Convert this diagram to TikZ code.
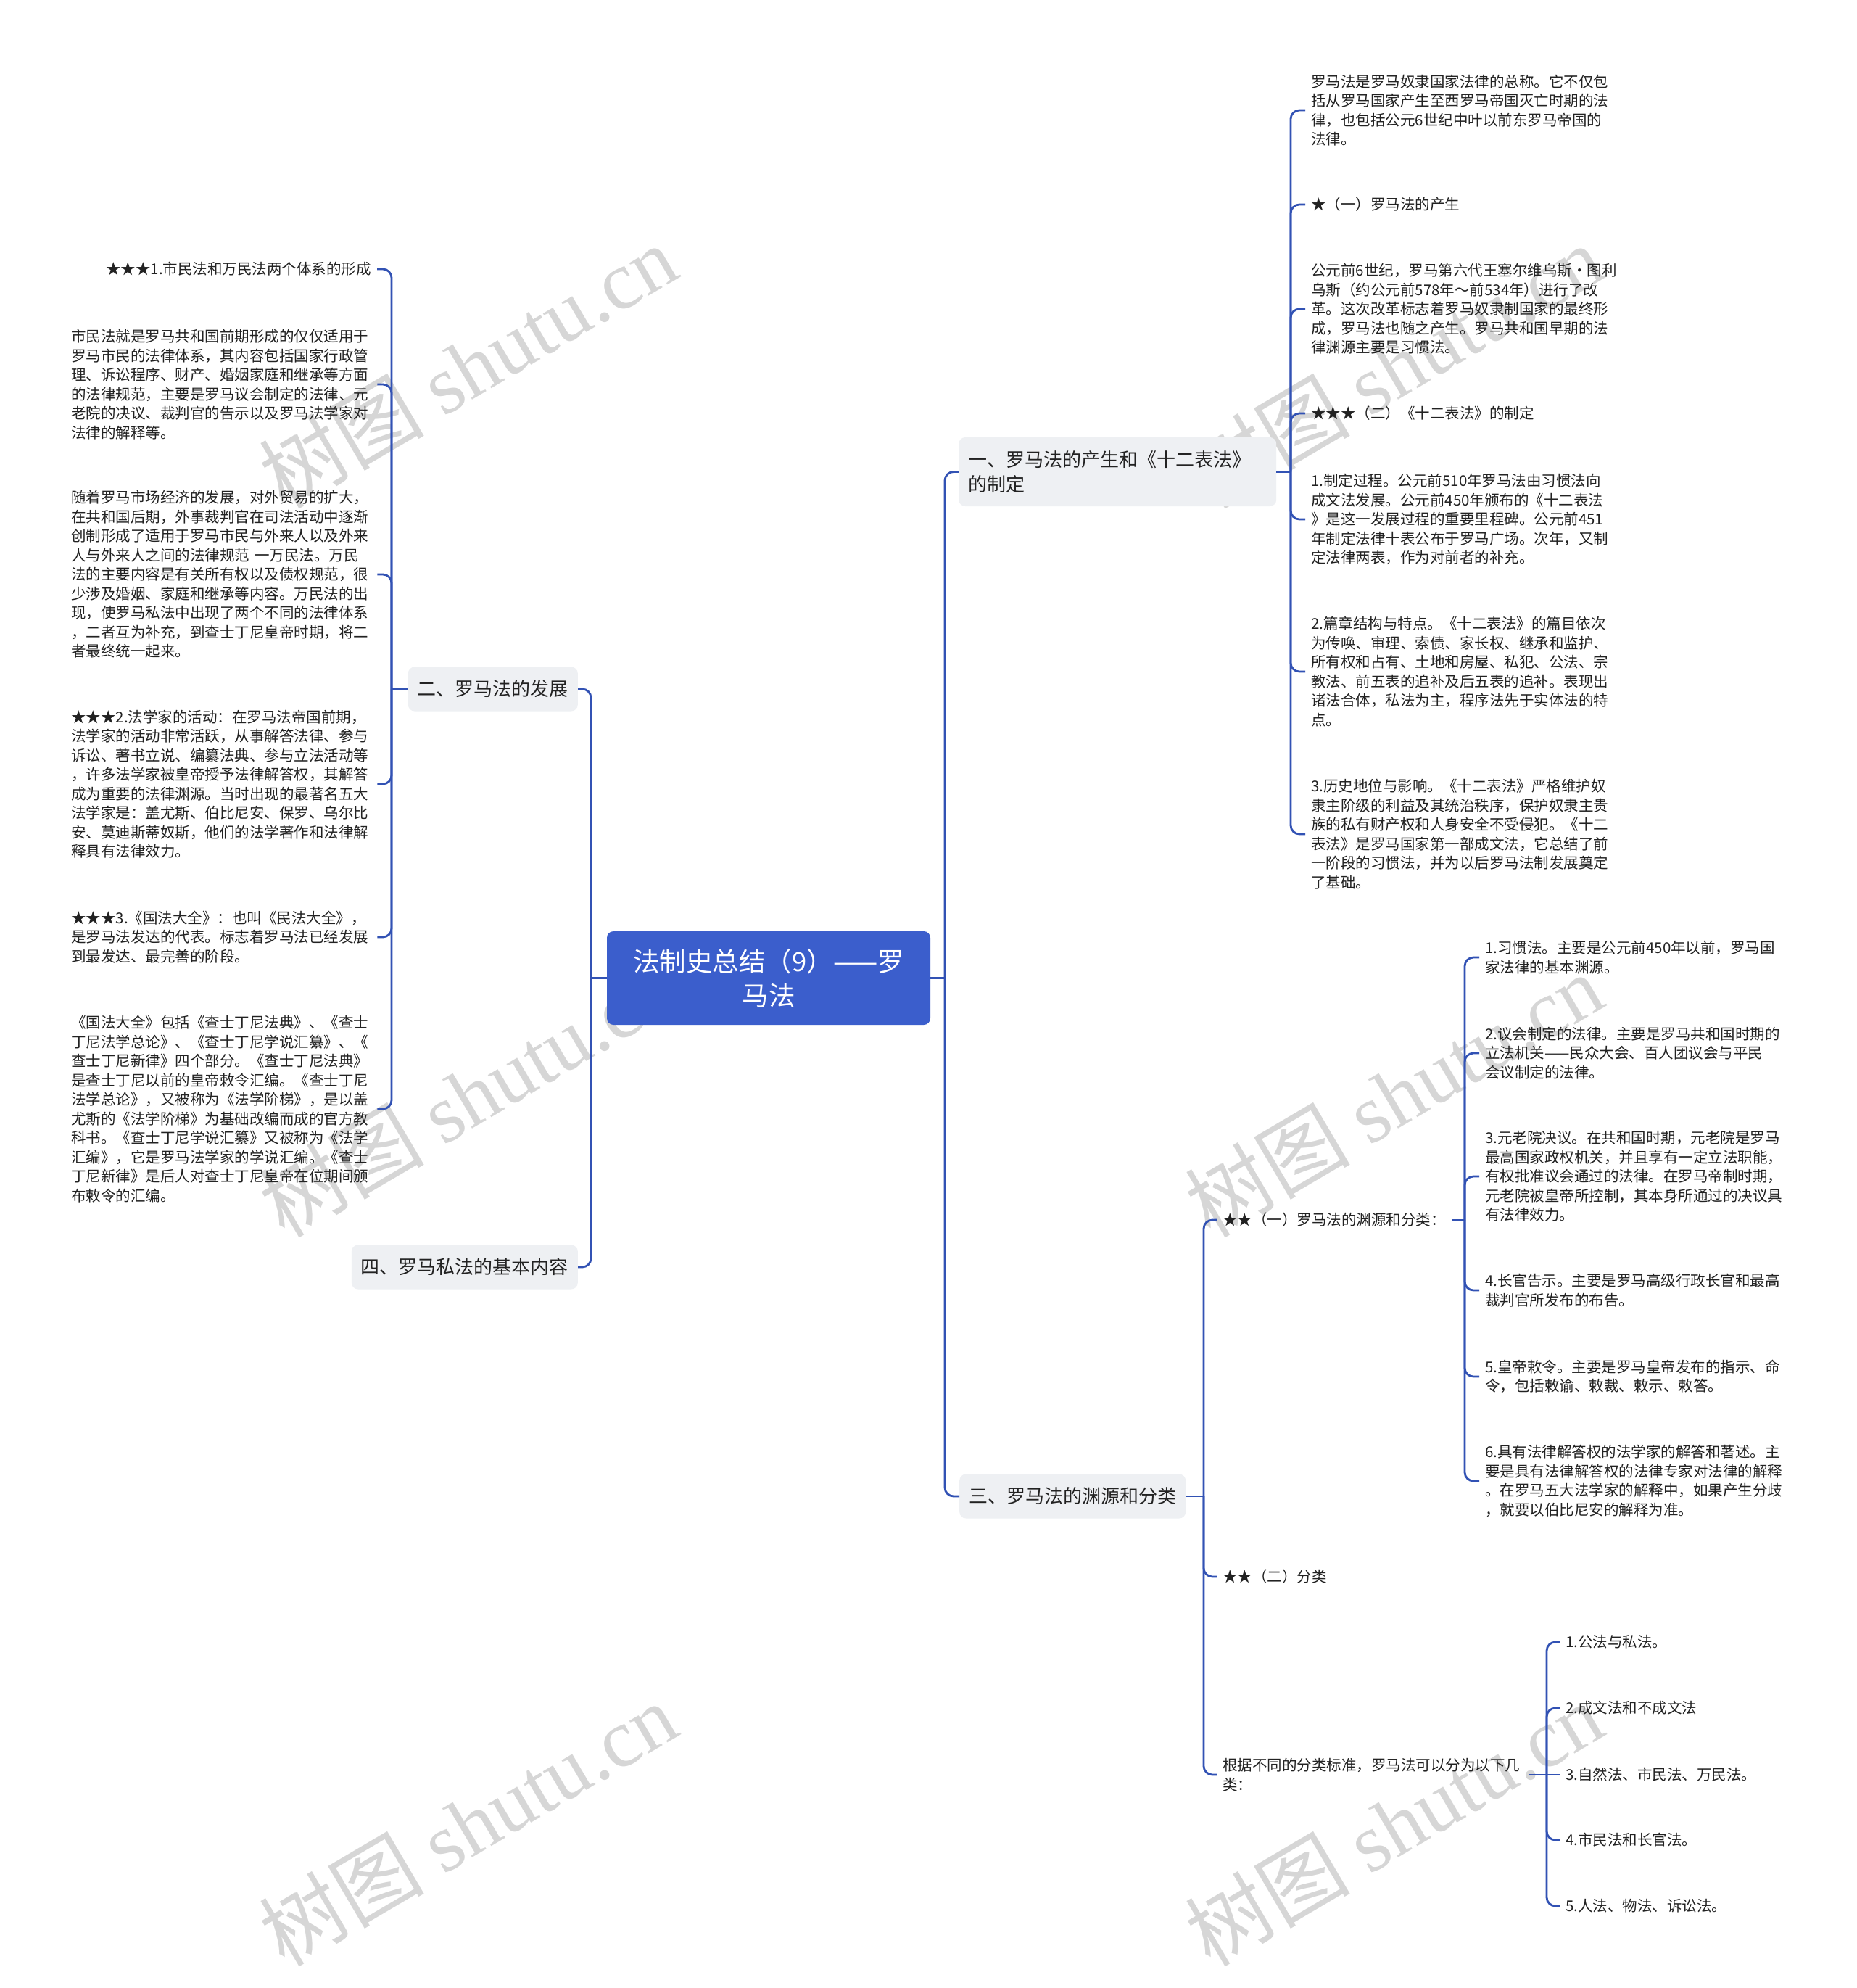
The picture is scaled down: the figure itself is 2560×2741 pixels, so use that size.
\documentclass[tikz,border=0pt]{standalone}
\usepackage{fontspec}
\setmainfont{Noto Sans CJK SC}
\newfontfamily\wmserif{Liberation Serif}
\definecolor{linec}{RGB}{50,82,180}
\definecolor{rootc}{RGB}{59,94,204}
\definecolor{grayf}{RGB}{238,240,243}
\definecolor{textc}{RGB}{34,34,34}
\definecolor{wmc}{RGB}{214,214,214}
\tikzset{
 conn/.style={draw=linec, line width=2.8pt},
 bendc/.style={conn, rounded corners=12pt},
 para/.style={font=\fontsize{20.5}{26.5}\selectfont, text=textc, align=left, inner xsep=8pt, inner ysep=2pt, text width=414pt},
 lone/.style={font=\fontsize{20.5}{26.5}\selectfont, text=textc, inner xsep=8pt, inner ysep=2pt},
 lvone/.style={fill=grayf, rounded corners=9pt, font=\fontsize{26}{34}\selectfont, text=textc, inner xsep=13pt, inner ysep=0pt, minimum height=61pt},
 rootbox/.style={fill=rootc, rounded corners=9pt, text=white, font=\fontsize{36.5}{47}\selectfont, align=center, text width=420pt, minimum width=446pt, minimum height=129pt, inner sep=0pt},
 wm/.style={text=wmc, rotate=30.5, font=\fontsize{114}{114}\selectfont, inner sep=0pt}
}
\begin{document}
\begin{tikzpicture}[x=1pt,y=-1pt]
\useasboundingbox[fill=white] (0,0) rectangle (2560,2741);
% watermarks
\foreach \wx/\wy [count=\i] in {645/505,645/1510,645/2515,1922/505,1922/1510,1922/2515}{
  \node[wm] (wm\i) at (\wx,\wy) {树图 {\wmserif shutu.cn}};
}
% root
\node[rootbox] (root) at (1060,1348.5) {法制史总结（9）——罗\\马法};
% level one
\node[lvone, anchor=west, text width=412pt, align=left, minimum height=95pt] (n1) at (1322,650.5) {一、罗马法的产生和《十二表法》\\的制定};
\node[lvone, anchor=west] (n3) at (1323,2063) {三、罗马法的渊源和分类};
\node[lvone, anchor=east] (n2) at (797,950) {二、罗马法的发展};
\node[lvone, anchor=east] (n4) at (797,1747) {四、罗马私法的基本内容};
% n1 children
\node[para, anchor=west] (r1) at (1800,152) {罗马法是罗马奴隶国家法律的总称。它不仅包\\括从罗马国家产生至西罗马帝国灭亡时期的法\\律，也包括公元6世纪中叶以前东罗马帝国的\\法律。};
\node[lone, anchor=west] (r2) at (1800,282) {★（一）罗马法的产生};
\node[para, anchor=west] (r3) at (1800,426) {公元前6世纪，罗马第六代王塞尔维乌斯·图利\\乌斯（约公元前578年～前534年）进行了改\\革。这次改革标志着罗马奴隶制国家的最终形\\成，罗马法也随之产生。罗马共和国早期的法\\律渊源主要是习惯法。};
\node[lone, anchor=west] (r4) at (1800,570) {★★★（二）《十二表法》的制定};
\node[para, anchor=west] (r5) at (1800,716) {1.制定过程。公元前510年罗马法由习惯法向\\成文法发展。公元前450年颁布的《十二表法\\》是这一发展过程的重要里程碑。公元前451\\年制定法律十表公布于罗马广场。次年，又制\\定法律两表，作为对前者的补充。};
\node[para, anchor=west] (r6) at (1800,926) {2.篇章结构与特点。《十二表法》的篇目依次\\为传唤、审理、索债、家长权、继承和监护、\\所有权和占有、土地和房屋、私犯、公法、宗\\教法、前五表的追补及后五表的追补。表现出\\诸法合体，私法为主，程序法先于实体法的特\\点。};
\node[para, anchor=west] (r7) at (1800,1150) {3.历史地位与影响。《十二表法》严格维护奴\\隶主阶级的利益及其统治秩序，保护奴隶主贵\\族的私有财产权和人身安全不受侵犯。《十二\\表法》是罗马国家第一部成文法，它总结了前\\一阶段的习惯法，并为以后罗马法制发展奠定\\了基础。};
% n2 children
\node[lone, anchor=east] (l1) at (520,371) {★★★1.市民法和万民法两个体系的形成};
\node[para, anchor=west] (l2) at (90,530) {市民法就是罗马共和国前期形成的仅仅适用于\\罗马市民的法律体系，其内容包括国家行政管\\理、诉讼程序、财产、婚姻家庭和继承等方面\\的法律规范，主要是罗马议会制定的法律、元\\老院的决议、裁判官的告示以及罗马法学家对\\法律的解释等。};
\node[para, anchor=west] (l3) at (90,792) {随着罗马市场经济的发展，对外贸易的扩大，\\在共和国后期，外事裁判官在司法活动中逐渐\\创制形成了适用于罗马市民与外来人以及外来\\人与外来人之间的法律规范 一万民法。万民\\法的主要内容是有关所有权以及债权规范，很\\少涉及婚姻、家庭和继承等内容。万民法的出\\现，使罗马私法中出现了两个不同的法律体系\\，二者互为补充，到查士丁尼皇帝时期，将二\\者最终统一起来。};
\node[para, anchor=west] (l4) at (90,1081) {★★★2.法学家的活动：在罗马法帝国前期，\\法学家的活动非常活跃，从事解答法律、参与\\诉讼、著书立说、编纂法典、参与立法活动等\\，许多法学家被皇帝授予法律解答权，其解答\\成为重要的法律渊源。当时出现的最著名五大\\法学家是：盖尤斯、伯比尼安、保罗、乌尔比\\安、莫迪斯蒂奴斯，他们的法学著作和法律解\\释具有法律效力。};
\node[para, anchor=west] (l5) at (90,1292) {★★★3.《国法大全》：也叫《民法大全》，\\是罗马法发达的代表。标志着罗马法已经发展\\到最发达、最完善的阶段。};
\node[para, anchor=west] (l6) at (90,1529) {《国法大全》包括《查士丁尼法典》、《查士\\丁尼法学总论》、《查士丁尼学说汇纂》、《\\查士丁尼新律》四个部分。《查士丁尼法典》\\是查士丁尼以前的皇帝敕令汇编。《查士丁尼\\法学总论》，又被称为《法学阶梯》，是以盖\\尤斯的《法学阶梯》为基础改编而成的官方教\\科书。《查士丁尼学说汇纂》又被称为《法学\\汇编》，它是罗马法学家的学说汇编。《查士\\丁尼新律》是后人对查士丁尼皇帝在位期间颁\\布敕令的汇编。};
% n3 children
\node[lone, anchor=west] (ta) at (1678,1682) {★★（一）罗马法的渊源和分类：};
\node[lone, anchor=west] (tb) at (1678,2174) {★★（二）分类};
\node[para, anchor=west] (tc) at (1678,2447) {根据不同的分类标准，罗马法可以分为以下几\\类：};
% ta children
\node[para, anchor=west] (a1) at (2040,1320) {1.习惯法。主要是公元前450年以前，罗马国\\家法律的基本渊源。};
\node[para, anchor=west] (a2) at (2040,1452) {2.议会制定的法律。主要是罗马共和国时期的\\立法机关——民众大会、百人团议会与平民\\会议制定的法律。};
\node[para, anchor=west] (a3) at (2040,1622) {3.元老院决议。在共和国时期，元老院是罗马\\最高国家政权机关，并且享有一定立法职能，\\有权批准议会通过的法律。在罗马帝制时期，\\元老院被皇帝所控制，其本身所通过的决议具\\有法律效力。};
\node[para, anchor=west] (a4) at (2040,1779) {4.长官告示。主要是罗马高级行政长官和最高\\裁判官所发布的布告。};
\node[para, anchor=west] (a5) at (2040,1898) {5.皇帝敕令。主要是罗马皇帝发布的指示、命\\令，包括敕谕、敕裁、敕示、敕答。};
\node[para, anchor=west] (a6) at (2040,2042) {6.具有法律解答权的法学家的解答和著述。主\\要是具有法律解答权的法律专家对法律的解释\\。在罗马五大法学家的解释中，如果产生分歧\\，就要以伯比尼安的解释为准。};
% tc children
\node[lone, anchor=west] (c1) at (2151,2264) {1.公法与私法。};
\node[lone, anchor=west] (c2) at (2151,2355) {2.成文法和不成文法};
\node[lone, anchor=west] (c3) at (2151,2447) {3.自然法、市民法、万民法。};
\node[lone, anchor=west] (c4) at (2151,2537) {4.市民法和长官法。};
\node[lone, anchor=west] (c5) at (2151,2628) {5.人法、物法、诉讼法。};
% junctions
\coordinate (jr) at (1303,1348.5);
\coordinate (jl) at (815,1348.5);
\coordinate (j1) at (1780,650.5);
\coordinate (j2) at (540,950);
\coordinate (j3) at (1660,2063);
\coordinate (ja) at (2020,1682);
% connectors
\draw[conn] (root.east) -- (jr);
\draw[bendc] (jr) |- (n1.west);
\draw[bendc] (jr) |- (n3.west);
\draw[conn] (root.west) -- (jl);
\draw[bendc] (jl) |- (n2.east);
\draw[bendc] (jl) |- (n4.east);
\draw[conn] (n1.east) -- (j1);
\foreach \c in {r1,r2,r3,r4,r5,r6,r7} \draw[bendc] (j1) |- (\c.west);
\draw[conn] (n2.west) -- (j2);
\foreach \c in {l1,l2,l3,l4,l5,l6} \draw[bendc] (j2) |- (\c.east);
\draw[conn] (n3.east) -- (j3);
\foreach \c in {ta,tb,tc} \draw[bendc] (j3) |- (\c.west);
\draw[conn] (ta.east) -- (ja);
\foreach \c in {a1,a2,a3,a4,a5,a6} \draw[bendc] (ja) |- (\c.west);
\draw[conn] (tc.east) -- (c3.west);
\coordinate (jc) at (tc.east -| 2133,0);
\foreach \c in {c1,c2,c4,c5} \draw[bendc] (jc) |- (\c.west);
\end{tikzpicture}
\end{document}
